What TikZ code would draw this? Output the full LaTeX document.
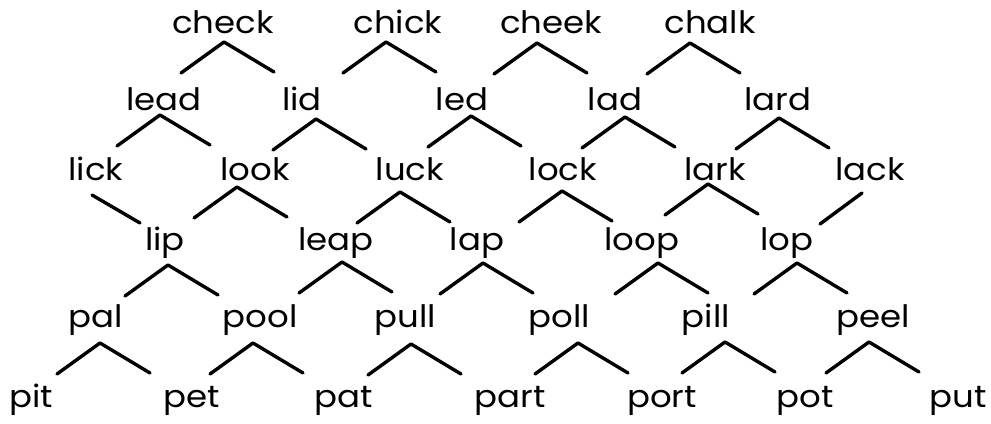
\documentclass[tikz,border=0pt]{standalone}
\usepackage{fontspec}
\setmainfont{Poppins}[FakeStretch=1.1]

\begin{document}
\begin{tikzpicture}[
    x=1bp, y=-1bp,
    word/.style={anchor=base, inner sep=0pt, font=\fontsize{31}{34}\selectfont},
    hat/.style={line width=3.4bp, line cap=round, line join=round},
  ]
  \useasboundingbox (0,0) rectangle (991,423);

  % ===== row 1 =====
  \node[word] (check) at (223,33) {check};
  \node[word] (chick) at (398,33) {chick};
  \node[word] (cheek) at (551,33) {cheek};
  \node[word] (chalk) at (710,33) {chalk};

  \draw[hat] (181,73) -- (224,42) -- (274,72);
  \draw[hat] (343,73) -- (386,42) -- (436,72);
  \draw[hat] (494,74) -- (537,43) -- (587,73);
  \draw[hat] (647,74) -- (690,43) -- (740,73);

  % ===== row 2 =====
  \node[word] (lead) at (164,110) {lead};
  \node[word] (lid)  at (302,110) {lid};
  \node[word] (led)  at (462,110) {led};
  \node[word] (lad)  at (615,110) {lad};
  \node[word] (lard) at (778,110) {lard};

  \draw[hat] (117,146) -- (160,115) -- (210,145);
  \draw[hat] (273,150) -- (316,119) -- (366,149);
  \draw[hat] (428,147) -- (471,116) -- (521,146);
  \draw[hat] (582,148) -- (625,117) -- (675,147);
  \draw[hat] (736,149) -- (779,118) -- (829,148);

  % ===== row 3 =====
  \node[word] (lick) at (96,180)  {lick};
  \node[word] (look) at (255,180) {look};
  \node[word] (luck) at (410,180) {luck};
  \node[word] (lock) at (563,180) {lock};
  \node[word] (lark) at (715,180) {lark};
  \node[word] (lack) at (870,180) {lack};

  \draw[hat] (92,195) -- (140,223);
  \draw[hat] (194,218) -- (237,187) -- (287,217);
  \draw[hat] (357,223) -- (400,192) -- (450,222);
  \draw[hat] (519,222) -- (562,191) -- (612,221);
  \draw[hat] (665,215) -- (708,184) -- (758,214);
  \draw[hat] (862,193) -- (820,224);

  % ===== row 4 =====
  \node[word] (lip)  at (165,250) {lip};
  \node[word] (leap) at (336,250) {leap};
  \node[word] (lap)  at (477,250) {lap};
  \node[word] (loop) at (642,250) {loop};
  \node[word] (lop)  at (787,250) {lop};

  \draw[hat] (125,296) -- (168,265) -- (218,295);
  \draw[hat] (299,293) -- (342,262) -- (392,292);
  \draw[hat] (440,294) -- (483,263) -- (533,293);
  \draw[hat] (615,294) -- (658,263) -- (708,293);
  \draw[hat] (754,294) -- (797,263) -- (847,293);

  % ===== row 5 =====
  \node[word] (pal)  at (96,327)  {pal};
  \node[word] (pool) at (260,327) {pool};
  \node[word] (pull) at (405,327) {pull};
  \node[word] (poll) at (559,327) {poll};
  \node[word] (pill) at (706,327) {pill};
  \node[word] (peel) at (873,327) {peel};

  \draw[hat] (57,374)  -- (100,343) -- (150,373);
  \draw[hat] (210,374) -- (253,343) -- (303,373);
  \draw[hat] (368,375) -- (411,344) -- (461,374);
  \draw[hat] (535,374) -- (578,343) -- (628,373);
  \draw[hat] (682,373) -- (725,342) -- (775,372);
  \draw[hat] (826,373) -- (869,342) -- (919,372);

  % ===== row 6 =====
  \node[word] (pit)  at (31,407)  {pit};
  \node[word] (pet)  at (192,407) {pet};
  \node[word] (pat)  at (344,407) {pat};
  \node[word] (part) at (510,407) {part};
  \node[word] (port) at (662,407) {port};
  \node[word] (pot)  at (805,407) {pot};
  \node[word] (put)  at (958,407) {put};

\end{tikzpicture}
\end{document}
